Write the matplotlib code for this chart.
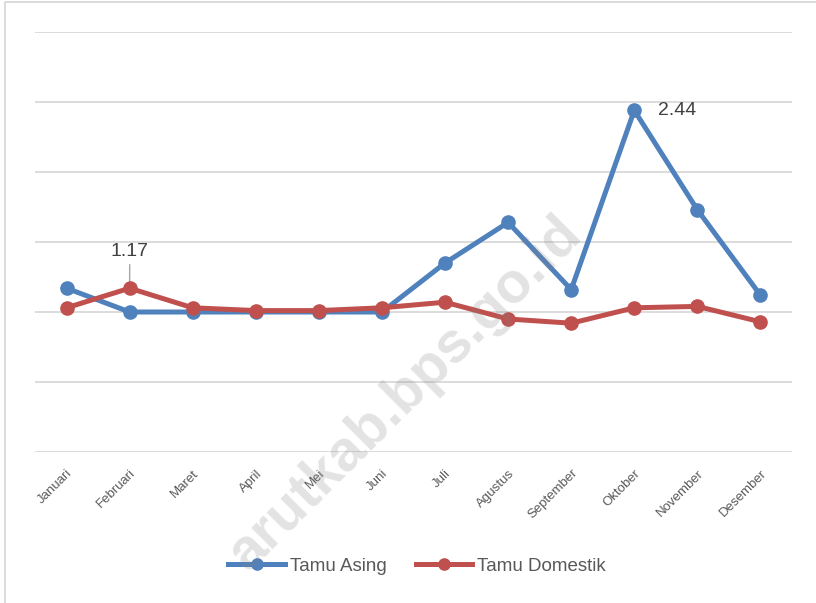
import matplotlib
matplotlib.use("Agg")
import matplotlib.pyplot as plt
from matplotlib.patches import Rectangle

bulan = ['Januari', 'Februari', 'Maret', 'April', 'Mei', 'Juni', 'Juli',
         'Agustus', 'September', 'Oktober', 'November', 'Desember']
tamu_asing = [1.17, 1.00, 1.00, 1.00, 1.00, 1.00, 1.35, 1.64, 1.16, 2.44, 1.73, 1.12]
tamu_domestik = [1.03, 1.17, 1.03, 1.01, 1.01, 1.03, 1.07, 0.95, 0.92, 1.03, 1.04, 0.93]

biru = '#4f81bd'
merah = '#c0504d'
abu = '#595959'

plt.rcParams['font.family'] = ['Liberation Sans', 'DejaVu Sans']

fig = plt.figure(figsize=(8.16, 6.03), dpi=100)
ax = fig.add_axes([35 / 816, 1 - 452 / 603, 757 / 816, 420 / 603])

x = list(range(len(bulan)))
ax.plot(x, tamu_asing, color=biru, lw=3.6, marker='o', ms=9.5, label='Tamu Asing', zorder=3)
ax.plot(x, tamu_domestik, color=merah, lw=3.6, marker='o', ms=9.5, label='Tamu Domestik', zorder=4)

ax.set_xlim(-0.5, len(bulan) - 0.5)
ax.set_ylim(0, 3)
ax.set_yticks([0, 0.5, 1, 1.5, 2, 2.5, 3])
ax.yaxis.grid(True, color='#d9d9d9', lw=1.3)
ax.set_axisbelow(True)
ax.tick_params(axis='y', left=False, labelleft=False)
ax.tick_params(axis='x', length=0, pad=11)
for s in ax.spines.values():
    s.set_visible(False)
ax.set_xticks(x)
ax.set_xticklabels(bulan, rotation=45, ha='right', rotation_mode='anchor',
                   fontsize=9.5, color=abu)

# label data
i = bulan.index('Februari')
ax.annotate('%.2f' % tamu_domestik[i], xy=(i, tamu_domestik[i]), xytext=(0.08, 20),
            textcoords=('offset points'), ha='center', va='bottom', fontsize=14, color='#404040',
            arrowprops=dict(arrowstyle='-', color='#a6a6a6', lw=1, shrinkA=1, shrinkB=2))
j = bulan.index('Oktober')
ax.annotate('%.2f' % tamu_asing[j], xy=(j, tamu_asing[j]), xytext=(17, 0),
            textcoords='offset points', ha='left', va='center', fontsize=14, color='#404040')

leg = fig.legend(loc='center', bbox_to_anchor=(0.511, 1 - 566 / 603), ncol=2, frameon=False,
                 fontsize=13.5, handlelength=3.0, columnspacing=1.55, handletextpad=0.27,
                 markerscale=0.85)
for t in leg.get_texts():
    t.set_color(abu)

# bingkai
fig.patches.append(Rectangle((5 / 816, -0.01), 1.2, 1 - 2 / 603 + 0.01, transform=fig.transFigure,
                             fill=False, edgecolor='#d9d9d9', lw=1.3))

# watermark
fig.text(405 / 816, 1 - 394 / 603, 'arutkab.bps.go.id', rotation=45, ha='center', va='center',
         fontsize=41, fontweight='bold', color='#808080', alpha=0.22, zorder=10)

fig.savefig('out.png', dpi=100)
